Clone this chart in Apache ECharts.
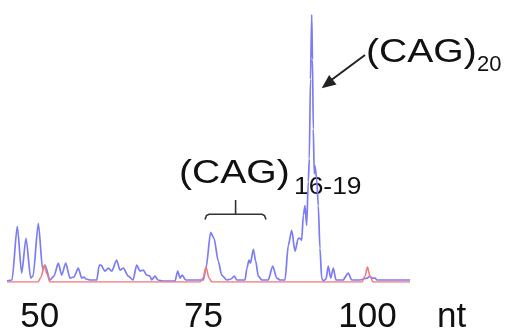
<!DOCTYPE html>
<html>
<head>
<meta charset="utf-8">
<style>
  html, body { margin: 0; padding: 0; background: #ffffff; }
  #chart { width: 514px; height: 335px; }
</style>
<script src="https://cdn.jsdelivr.net/npm/echarts@6.0.0/dist/echarts.min.js"></script>
</head>
<body>
<div id="chart"></div>
<script>
// Fragment size (nt) and signal for the blue (FAM) trace
var blueNt = [45.00, 45.76, 46.57, 47.24, 47.90, 48.62, 48.97, 49.78, 50.45, 50.80,
  51.56, 52.17, 52.83, 53.35, 53.96, 54.61, 55.22, 55.88, 56.40, 56.75,
  57.06, 57.67, 58.69, 59.09, 59.34, 59.95, 60.46, 60.98, 61.74, 62.24,
  62.75, 63.51, 64.23, 64.79, 65.30, 65.80, 66.32, 66.82, 67.08, 67.58,
  68.04, 68.81, 70.64, 71.05, 71.40, 71.75, 72.27, 73.69, 74.96, 75.37,
  76.08, 76.59, 77.24, 77.76, 78.53, 79.18, 79.69, 80.05, 81.32, 81.62,
  81.93, 82.16, 82.59, 82.95, 83.35, 83.87, 84.87, 85.55, 86.16, 86.66,
  87.42, 87.93, 88.45, 88.95, 89.45, 89.71, 89.97, 90.22, 90.47, 90.73,
  90.98, 91.13, 91.31, 91.50, 91.62, 91.74, 91.89, 92.00, 92.26, 92.50,
  92.76, 93.02, 93.27, 93.68, 94.03, 94.40, 94.79, 95.21, 95.56, 96.27,
  97.08, 97.60, 98.87, 99.94, 100.39, 100.70, 101.16, 101.46, 101.92, 102.23,
  102.68, 103.45, 104.97, 106.50];
var blueSignal = [1, 2, 56, 9, 44, 4, 6, 59, 12, 17,
  2, 6, 19, 7, 19, 4, 5, 14, 4, 5,
  3, 2, 2, 17, 17, 11, 14, 11, 22, 12,
  14, 6, 2, 17, 11, 12, 7, 6, 2, 6,
  2, 1, 1, 11, 4, 7, 2, 2, 2, 14,
  50, 44, 21, 7, 2, 3, 6, 2, 2, 14,
  22, 19, 33, 21, 6, 2, 2, 16, 4, 2,
  2, 37, 52, 31, 44, 44, 42, 67, 77, 57,
  101, 124, 204, 269, 224, 154, 109, 117, 104, 77,
  34, 4, 1, 3, 16, 4, 14, 2, 2, 2,
  9, 2, 2, 4, 6, 4, 4, 2, 2, 2,
  2, 2, 2, 2];

// Red (size standard) trace
var redNt = [45.00, 49.73, 50.19, 50.72, 51.10, 51.56, 74.45, 74.91, 75.37, 75.83,
  76.28, 99.17, 99.63, 100.01, 100.39, 100.85, 106.50];
var redSignal = [0, 0, 5, 17, 8, 0, 0, 4, 15, 4,
  0, 0, 6, 15, 6, 0, 0];

var tickLabels = [50, 75, 100];
var axisUnit = 'nt';
var labelMain = '(CAG)';
var labelSub20 = '20';
var labelSub1619 = '16-19';

function pairs(xs, ys) {
  return xs.map(function (x, i) { return [x, ys[i]]; });
}

var chart = echarts.init(document.getElementById('chart'), null, { renderer: 'canvas' });
var font = 'Liberation Sans, Arial, Helvetica, sans-serif';

var option = {
  backgroundColor: '#ffffff',
  animation: false,
  grid: { left: 7, right: 104, top: 0, bottom: 51 },
  xAxis: {
    type: 'value',
    min: 45,
    max: 106.5,
    axisLine: { show: false },
    axisTick: { show: false },
    splitLine: { show: false },
    axisLabel: {
      customValues: tickLabels,
      color: '#111111',
      fontFamily: font,
      fontSize: 35,
      margin: 18
    },
    name: axisUnit,
    nameLocation: 'end',
    nameGap: 27,
    nameTextStyle: {
      color: '#111111',
      fontFamily: font,
      fontSize: 35,
      verticalAlign: 'top',
      padding: [18, 0, 0, 0]
    }
  },
  yAxis: {
    type: 'value',
    min: 0,
    max: 284,
    show: false
  },
  series: [
    {
      type: 'line',
      data: pairs(blueNt, blueSignal),
      showSymbol: false,
      smooth: 0.25,
      smoothMonotone: 'x',
      lineStyle: { color: '#7c7cf6', width: 1.7 },
      z: 2
    },
    {
      type: 'line',
      data: pairs(redNt, redSignal),
      showSymbol: false,
      smooth: 0.3,
      smoothMonotone: 'x',
      lineStyle: { color: '#f37c7c', width: 1.6 },
      z: 3
    }
  ],
  graphic: [
    {
      type: 'text', left: 366, top: 36, scaleX: 1.15,
      style: { text: labelMain, font: '34px ' + font, fill: '#111111' }
    },
    {
      type: 'text', left: 477, top: 54,
      style: { text: labelSub20, font: '22px ' + font, fill: '#111111' }
    },
    {
      type: 'text', left: 179, top: 157, scaleX: 1.15,
      style: { text: labelMain, font: '34px ' + font, fill: '#111111' }
    },
    {
      type: 'text', left: 294, top: 175, scaleX: 1.1,
      style: { text: labelSub1619, font: '24px ' + font, fill: '#111111' }
    },
    {
      type: 'line',
      shape: { x1: 365, y1: 55, x2: 330, y2: 81 },
      style: { stroke: '#222222', lineWidth: 2 }
    },
    {
      type: 'polygon',
      shape: { points: [[321.7, 88.3], [336.5, 84.6], [329.1, 75.0]] },
      style: { fill: '#222222' }
    },
    {
      type: 'polyline',
      shape: { points: [[205, 219.5], [206.5, 215.5], [209, 214.3], [262, 214.3], [264.5, 215.5], [266, 219.5]] },
      style: { stroke: '#333333', lineWidth: 1.6, fill: null }
    },
    {
      type: 'line',
      shape: { x1: 235.6, y1: 200, x2: 235.6, y2: 214.3 },
      style: { stroke: '#333333', lineWidth: 1.6 }
    }
  ]
};
chart.setOption(option);
</script>
</body>
</html>
